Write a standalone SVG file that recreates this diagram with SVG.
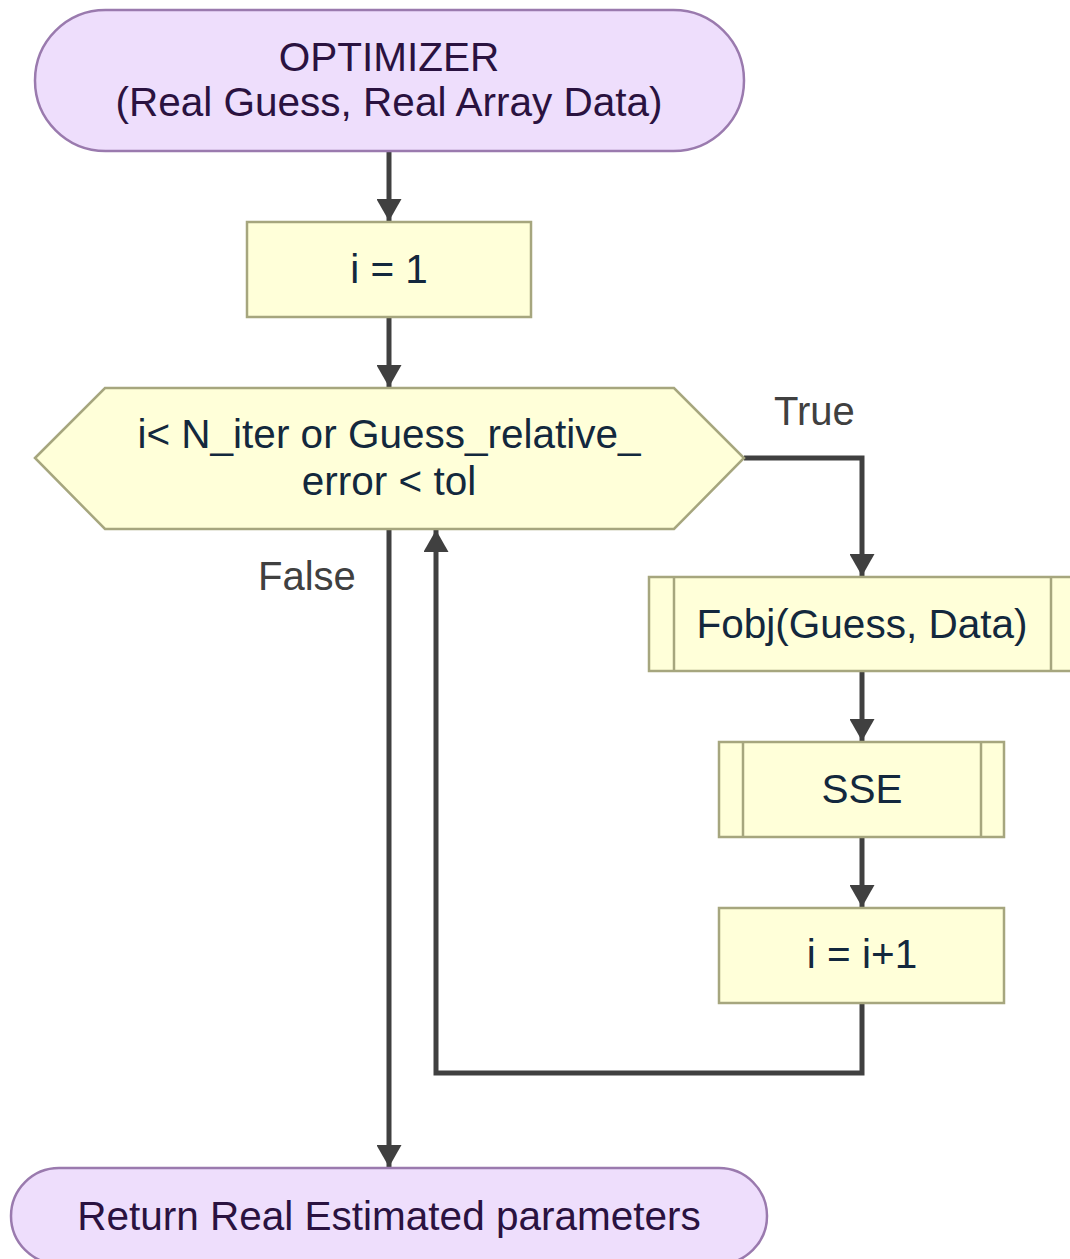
<svg xmlns="http://www.w3.org/2000/svg" width="1070" height="1259" viewBox="0 0 1070 1259">
  <defs>
    <marker id="arrow" viewBox="0 0 22 25" refX="22" refY="12.5" markerWidth="22" markerHeight="25" markerUnits="userSpaceOnUse" orient="auto">
      <path d="M0,0 L22,12.5 L0,25 Z" fill="#404040"/>
    </marker>
    <style>
      .term { fill: #eedefc; stroke: #9a7aae; stroke-width: 2.5; }
      .proc { fill: #ffffd9; stroke: #a6a67e; stroke-width: 2.5; }
      .t { font-family: "Liberation Sans", Arial, sans-serif; font-size: 40.5px; text-anchor: middle; }
      .tp { fill: #2a1240; }
      .ty { fill: #13283d; }
      .lbl { font-family: "Liberation Sans", Arial, sans-serif; font-size: 40px; fill: #404040; }
      .edge { fill: none; stroke: #404040; stroke-width: 5; }
    </style>
  </defs>
  <rect width="1070" height="1259" fill="#ffffff"/>

  <g id="connectors">
    <line class="edge" x1="389" y1="152" x2="389" y2="221" marker-end="url(#arrow)"/>
    <line class="edge" x1="389" y1="318" x2="389" y2="387" marker-end="url(#arrow)"/>
    <polyline class="edge" points="744,458 862,458 862,576" marker-end="url(#arrow)"/>
    <line class="edge" x1="862" y1="672" x2="862" y2="741" marker-end="url(#arrow)"/>
    <line class="edge" x1="862" y1="838" x2="862" y2="907" marker-end="url(#arrow)"/>
    <polyline class="edge" points="862,1004 862,1073 436,1073 436,530" marker-end="url(#arrow)"/>
    <line class="edge" x1="389" y1="530" x2="389" y2="1167" marker-end="url(#arrow)"/>
    <text class="lbl" x="774" y="425">True</text>
    <text class="lbl" x="258" y="590">False</text>
  </g>

  <g id="start">
    <rect class="term" x="35" y="10" width="709" height="141" rx="70.5" ry="70.5"/>
    <text class="t tp" x="389" y="71">OPTIMIZER</text>
    <text class="t tp" x="389" y="116">(Real Guess, Real Array Data)</text>
  </g>

  <g id="init">
    <rect class="proc" x="247" y="222" width="284" height="95"/>
    <text class="t ty" x="389" y="283">i = 1</text>
  </g>

  <g id="condition">
    <polygon class="proc" points="35,458 105,388 674,388 744,458 674,529 105,529"/>
    <text class="t ty" x="389" y="448">i&lt; N_iter or Guess_relative_</text>
    <text class="t ty" x="389" y="495">error &lt; tol</text>
  </g>

  <g id="fobj">
    <rect class="proc" x="649" y="577" width="426" height="94"/>
    <line class="proc" x1="674" y1="577" x2="674" y2="671"/>
    <line class="proc" x1="1051" y1="577" x2="1051" y2="671"/>
    <text class="t ty" x="862" y="638">Fobj(Guess, Data)</text>
  </g>

  <g id="sse">
    <rect class="proc" x="719" y="742" width="285" height="95"/>
    <line class="proc" x1="743" y1="742" x2="743" y2="837"/>
    <line class="proc" x1="981" y1="742" x2="981" y2="837"/>
    <text class="t ty" x="862" y="803">SSE</text>
  </g>

  <g id="increment">
    <rect class="proc" x="719" y="908" width="285" height="95"/>
    <text class="t ty" x="862" y="968">i = i+1</text>
  </g>

  <g id="end">
    <rect class="term" x="11" y="1168" width="756" height="96" rx="48" ry="48"/>
    <text class="t tp" x="389" y="1230">Return Real Estimated parameters</text>
  </g>
</svg>
